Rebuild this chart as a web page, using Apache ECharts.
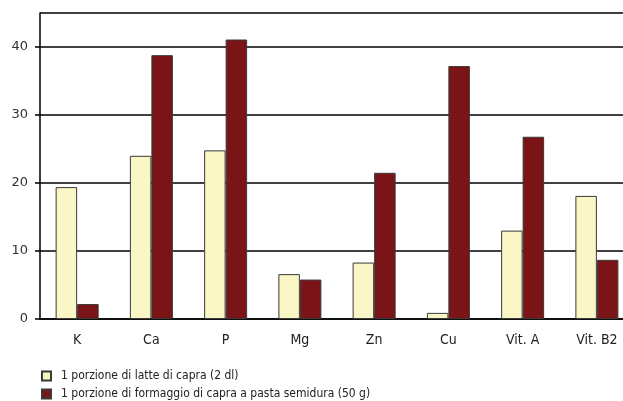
<!DOCTYPE html>
<html>
<head>
<meta charset="utf-8">
<style>
  html, body { margin: 0; padding: 0; background: #fff; }
  #chart { width: 623px; height: 401px; }
</style>
<script src="https://cdn.jsdelivr.net/npm/echarts@6/dist/echarts.min.js"></script>
</head>
<body>
<div id="chart"></div>
<script>
// Nutrients covered (% of daily requirement) by a portion of goat milk and goat cheese
const categories = ['K', 'Ca', 'P', 'Mg', 'Zn', 'Cu', 'Vit. A', 'Vit. B2'];
const seriesNames = [
  '1 porzione di latte di capra (2 dl)',
  '1 porzione di formaggio di capra a pasta semidura (50 g)'
];
const milkValues = [19.4, 24.0, 24.8, 6.6, 8.3, 0.9, 13.0, 18.1];
const cheeseValues = [2.2, 38.8, 41.1, 5.8, 21.5, 37.2, 26.8, 8.7];
const yTicks = [0, 10, 20, 30, 40];

const narrow = '"Liberation Sans Narrow", "DejaVu Sans Condensed", sans-serif';

const chart = echarts.init(document.getElementById('chart'), null, { renderer: 'canvas' });

const barStyle = (color) => ({
  color: color,
  borderColor: '#3a3a3a',
  borderWidth: 1
});

const legendText = { fontFamily: narrow, fontSize: 12, color: '#222', padding: [0, 0, 0, 5] };

chart.setOption({
  animation: false,
  backgroundColor: '#ffffff',
  grid: {
    left: 40, top: 13, width: 594, height: 306,
    containLabel: false,
    outerBoundsMode: 'none'
  },
  legend: [
    {
      left: 36, top: 365,
      itemWidth: 9, itemHeight: 9,
      icon: 'rect',
      textStyle: legendText,
      data: [seriesNames[0]]
    },
    {
      left: 36, top: 383,
      itemWidth: 9, itemHeight: 9,
      icon: 'rect',
      textStyle: legendText,
      data: [seriesNames[1]]
    }
  ],
  xAxis: {
    type: 'category',
    data: categories,
    axisLine: { show: true, lineStyle: { color: '#000', width: 1.5 } },
    axisTick: { show: false },
    axisLabel: { fontFamily: narrow, fontSize: 14, color: '#222', margin: 14 },
    splitLine: { show: false }
  },
  yAxis: {
    type: 'value',
    min: 0,
    max: 45,
    interval: 10,
    axisLine: { show: true, lineStyle: { color: '#000', width: 1.5 } },
    axisTick: { show: true, length: 5, lineStyle: { color: '#000', width: 1.5 } },
    axisLabel: {
      fontFamily: '"DejaVu Sans", sans-serif',
      fontSize: 13,
      color: '#333',
      margin: 12,
      showMaxLabel: false,
      formatter: (v) => (yTicks.indexOf(v) >= 0 ? String(v) : '')
    },
    splitLine: { show: true, lineStyle: { color: '#000', width: 1.5 } }
  },
  series: [
    {
      name: seriesNames[0],
      type: 'bar',
      data: milkValues,
      barWidth: 21.5,
      barGap: '0%',
      itemStyle: barStyle('#faf6c6')
    },
    {
      name: seriesNames[1],
      type: 'bar',
      data: cheeseValues,
      barWidth: 21.5,
      barGap: '0%',
      itemStyle: barStyle('#7a1416')
    }
  ]
});
</script>
</body>
</html>
